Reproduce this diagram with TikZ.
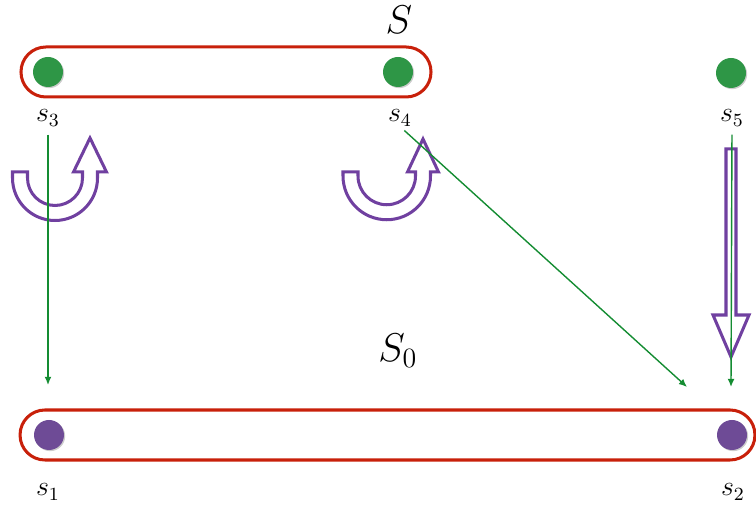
\documentclass[tikz,border=0pt]{standalone}
\usetikzlibrary{arrows.meta,positioning,shadows}
\definecolor{setred}{HTML}{C8200A}
\definecolor{stgreen}{HTML}{2E9646}
\definecolor{lngreen}{HTML}{148C32}
\definecolor{stpurple}{HTML}{6E4B96}
\definecolor{trpurple}{HTML}{7040A0}

\begin{document}
\begin{tikzpicture}[x=0.43pt,y=0.43pt,
      setbox/.style={draw=setred,line width=1.3pt,rounded corners=10.7pt,minimum height=21.5pt},
      dot/.style={circle,inner sep=0pt,minimum size=12.9pt,
        drop shadow={shadow xshift=0.5pt,shadow yshift=-0.5pt,opacity=0.4}},
      lab/.style={inner sep=0pt,font=\fontsize{12}{14}\selectfont},
      flow/.style={-{Latex[length=3.5pt,width=3pt]},draw=lngreen,line width=0.6pt},
      turn/.style={draw=trpurple,line width=1.3pt,fill=white,line join=miter}]
    \useasboundingbox (0,0) rectangle (756,506);
    % the two sets
    \node[setbox,minimum width=176.3pt] (S) at (226,434) {};
    \node[setbox,minimum width=316pt] (S0) at (387.5,71) {};
    \node[font=\LARGE] (Slab) at (399,486) {$S$};
    \node[font=\LARGE] (S0lab) at (398,155) {$S_0$};
    % states
    \node[dot,fill=stgreen] (s3) at (48,434) {};
    \node[dot,fill=stgreen] (s4) at (398,434) {};
    \node[dot,fill=stgreen] (s5) at (731,433) {};
    \node[dot,fill=stpurple] (s1) at (49,71) {};
    \node[dot,fill=stpurple] (s2) at (732,71) {};
    \node[lab] (l3) at (48,388) {$s_3$};
    \node[lab] (l4) at (400,388) {$s_4$};
    \node[lab] (l5) at (732,388) {$s_5$};
    \node[lab] (l1) at (48,14) {$s_1$};
    \node[lab] (l2) at (733,14) {$s_2$};
    % purple turn arrows
    \draw[turn] (12.5,334) -- (27.5,334) -- (27.5,328) arc[start angle=180,end angle=360,radius=27.5]
      -- (82.5,334) -- (73.5,334) -- (90,368) -- (106.5,334) -- (97.5,334) -- (97.5,328)
      arc[start angle=0,end angle=-180,radius=42.5] -- cycle;
    \draw[turn] (343,334) -- (358,334) -- (358,330) arc[start angle=180,end angle=360,radius=28.75]
      -- (415.5,334) -- (407.5,334) -- (423,367) -- (438.5,334) -- (430.5,334) -- (430.5,330)
      arc[start angle=0,end angle=-180,radius=43.75] -- cycle;
    \draw[turn] (726,357) -- (736,357) -- (736,191) -- (749,191) -- (731,149) -- (713,191)
      -- (726,191) -- cycle;
    % green transitions
    \coordinate (e1) at (48,121);
    \coordinate (e2) at (687,119);
    \coordinate (e5) at (731,119);
    \draw[flow,shorten <=3.5pt] (l3.south) -- (e1);
    \draw[flow,shorten <=2.5pt] (l4.south) -- (e2);
    \draw[flow,shorten <=3.5pt] (l5.south) -- (e5);
  \end{tikzpicture}
\end{document}
